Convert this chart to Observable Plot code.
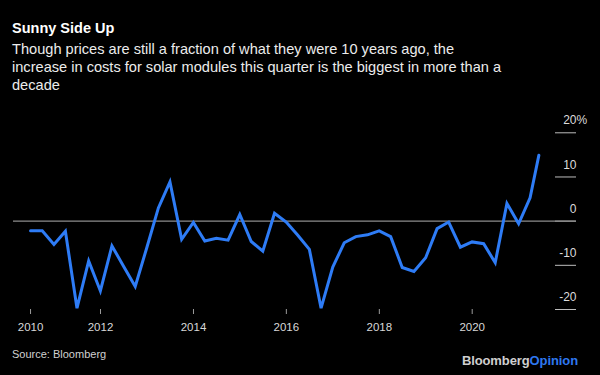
<!DOCTYPE html>
<html><head><meta charset="utf-8">
<script src="https://cdn.jsdelivr.net/npm/d3@7"></script>
<script src="https://cdn.jsdelivr.net/npm/@observablehq/plot@0.6"></script>
<style>
html,body{margin:0;padding:0;background:#000;}
#wrap{position:relative;width:600px;height:375px;overflow:hidden;background:#000;font-family:"Liberation Sans",Arial,sans-serif;}
.abs{position:absolute;white-space:nowrap;}
#title{left:12px;top:19.9px;font-size:14.5px;font-weight:bold;color:#fff;line-height:normal;}
#sub{left:12px;top:40.4px;font-size:14.6px;line-height:18px;color:#ececec;}
#chart{left:0;top:100px;}
#source{left:12px;top:348.3px;font-size:11px;color:#d0d0d0;line-height:normal;}
#logo{right:22px;top:353.2px;font-size:13px;font-weight:bold;color:#cfcfcf;line-height:normal;letter-spacing:-0.1px;}
#logo span{color:#2e78f0;}
</style></head>
<body>
<div id="wrap">
  <div id="title" class="abs">Sunny Side Up</div>
  <div id="sub" class="abs">Though prices are still a fraction of what they were 10 years ago, the<br>increase in costs for solar modules this quarter is the biggest in more than a<br>decade</div>
  <div id="chart" class="abs"></div>
  <div id="source" class="abs">Source: Bloomberg</div>
  <div id="logo" class="abs">Bloomberg<span>Opinion</span></div>
</div>
<script>
// Quarterly change in solar module prices (%)
const dates = [
  "2010-06-30","2010-09-30","2010-12-31",
  "2011-03-31","2011-06-30","2011-09-30","2011-12-31",
  "2012-03-31","2012-06-30","2012-09-30","2012-12-31",
  "2013-03-31","2013-06-30","2013-09-30","2013-12-31",
  "2014-03-31","2014-06-30","2014-09-30","2014-12-31",
  "2015-03-31","2015-06-30","2015-09-30","2015-12-31",
  "2016-03-31","2016-06-30","2016-09-30","2016-12-31",
  "2017-03-31","2017-06-30","2017-09-30","2017-12-31",
  "2018-03-31","2018-06-30","2018-09-30","2018-12-31",
  "2019-03-31","2019-06-30","2019-09-30","2019-12-31",
  "2020-03-31","2020-06-30","2020-09-30","2020-12-31",
  "2021-03-31","2021-06-08"
];
const values = [
  -2.2, -2.2, -5.3,
  -2.3, -19.7, -9.0, -15.8,
  -5.6, -10.2, -14.8, -5.9,
  3.0, 8.9, -4.1, -0.3,
  -4.5, -3.9, -4.3, 1.5,
  -4.6, -6.8, 1.8, -0.2,
  -3.2, -6.4, -19.7, -10.4,
  -4.9, -3.5, -3.1, -2.2,
  -3.5, -10.5, -11.4, -8.3,
  -1.7, -0.2, -5.9, -4.7,
  -5.1, -9.4, 4.0, -0.6,
  5.3, 14.9
];
const xTicks = ["2010-06-30","2012-01-01","2014-01-01","2016-01-01","2018-01-01","2020-01-01"];
const yTicks = [-20, -10, 0, 10, 20];
const xDomain = ["2010-02-16", "2022-03-31"];
const yDomain = [-20, 20];

const data = dates.map((d, i) => ({date: new Date(d), value: values[i]}));

const chart = Plot.plot({
  width: 600,
  height: 240,
  marginLeft: 13,
  marginRight: 24,
  marginTop: 32.3,
  marginBottom: 31,
  style: {background: "#000", color: "#ddd", fontFamily: "Liberation Sans, Arial, sans-serif"},
  x: {type: "utc", domain: xDomain.map(d => new Date(d))},
  y: {domain: yDomain, axis: null},
  marks: [
    Plot.axisX(xTicks.map(d => new Date(d)), {
      tickFormat: d3.utcFormat("%Y"),
      tickSize: 5, tickPadding: 8.7, fontSize: 11.5,
      stroke: "#9a9a9a", fill: "#d8d8d8"
    }),
    Plot.tickY(yTicks, {y: d => d, insetLeft: 542, stroke: "#bdbdbd", strokeWidth: 1}),
    Plot.text(yTicks, {y: d => d, text: d => String(d), frameAnchor: "right", textAnchor: "end",
      dy: -12.2, fontSize: 12, fill: "#dcdcdc"}),
    Plot.text(yTicks.filter(d => d === d3.max(yTicks)), {y: d => d, text: () => "%", frameAnchor: "right",
      textAnchor: "start", dy: -12.2, fontSize: 12, fill: "#dcdcdc"}),
    Plot.ruleY([0], {stroke: "#8c8c8c", strokeWidth: 1.2}),
    Plot.line(data, {x: "date", y: "value", stroke: "#2e7cf6", strokeWidth: 3, strokeLinejoin: "miter", strokeMiterlimit: 4})
  ]
});
document.getElementById("chart").appendChild(chart);
</script>
</body></html>
